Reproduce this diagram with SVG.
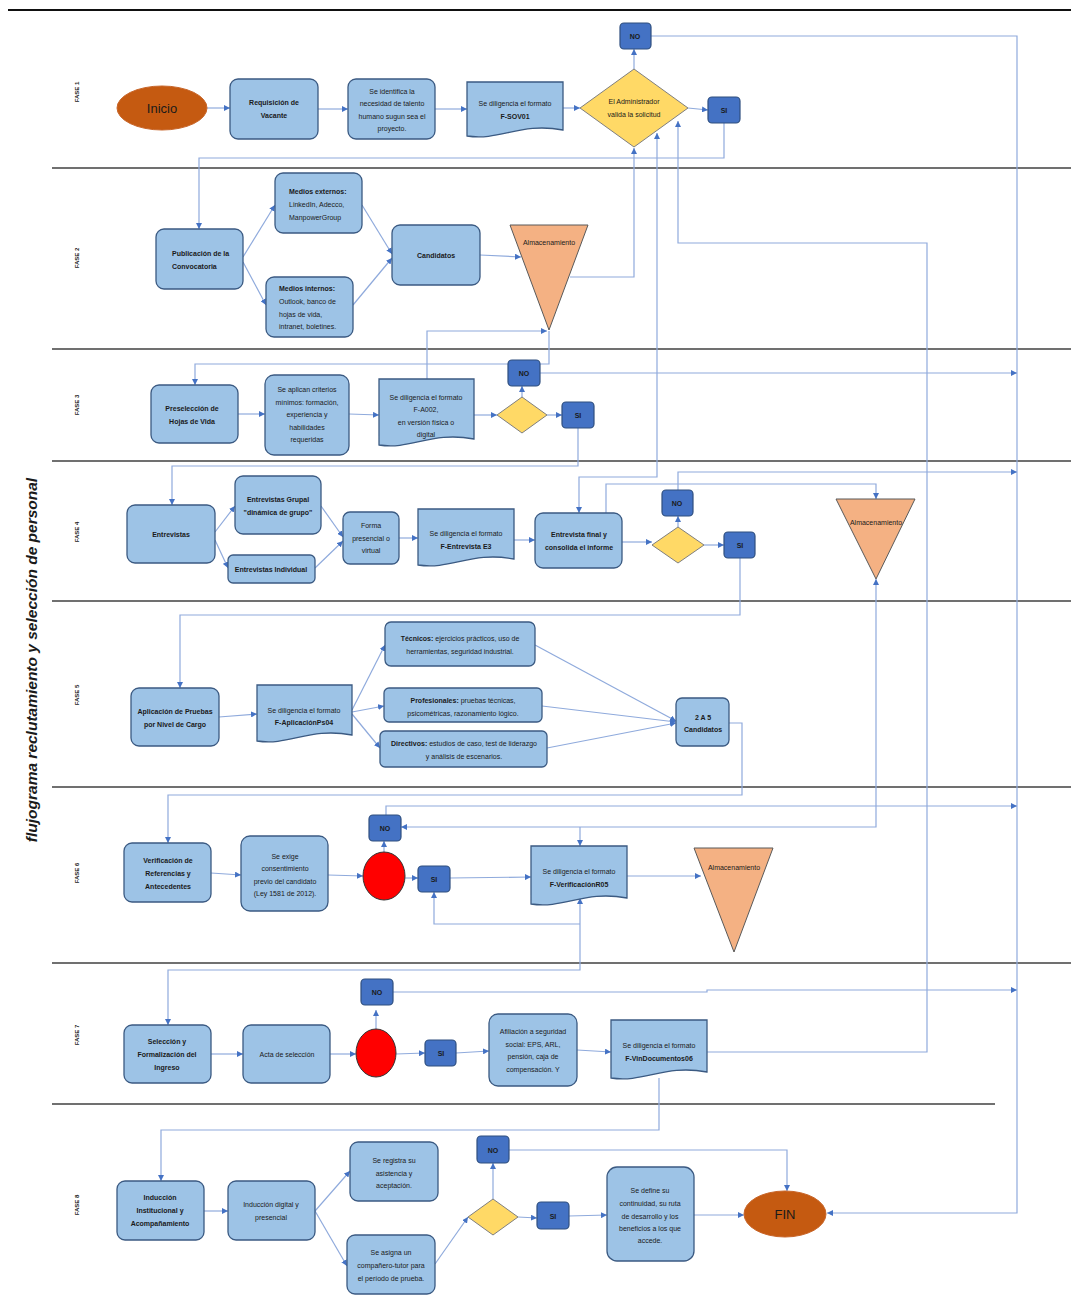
<svg xmlns="http://www.w3.org/2000/svg" width="1071" height="1300" viewBox="0 0 1071 1300">
<style>
.box{fill:#9DC3E6;stroke:#3B5A82;stroke-width:1.3}
.dec{fill:#FFD966;stroke:#7F7F7F;stroke-width:1}
.yn{fill:#4472C4;stroke:#2F4F7F;stroke-width:1.2}
.store{fill:#F4B183;stroke:#595959;stroke-width:1}
.term{fill:#C55A11;stroke:#C8662A;stroke-width:1}
.stop{fill:#FF0000;stroke:#333;stroke-width:1}
.t{font-family:"Liberation Sans",Arial,sans-serif;font-size:7px;fill:#1a1a1a;text-anchor:middle}
.big{font-size:13px}
.l{text-anchor:start}
.b{font-weight:bold}
.c{fill:none;stroke:#8FAADC;stroke-width:1.2}
.sep{stroke:#404040;stroke-width:1.5}
.fase{font-family:"Liberation Sans",Arial,sans-serif;font-size:6px;font-weight:bold;fill:#1a1a1a;text-anchor:middle}
</style>
<defs>
<marker id="ar" viewBox="0 0 10 10" refX="10" refY="5" markerWidth="6" markerHeight="6" orient="auto-start-reverse" markerUnits="userSpaceOnUse"><path d="M0,0 L10,5 L0,10 z" fill="#4472C4"/></marker>
</defs>
<rect width="1071" height="1300" fill="#fff"/>
<g id="lanes">
<line x1="8" y1="10" x2="1071" y2="10" stroke="#111" stroke-width="2"/>
<line class="sep" x1="52" y1="168" x2="1071" y2="168"/>
<line class="sep" x1="52" y1="349" x2="1071" y2="349"/>
<line class="sep" x1="52" y1="461" x2="1071" y2="461"/>
<line class="sep" x1="52" y1="601" x2="1071" y2="601"/>
<line class="sep" x1="52" y1="787" x2="1071" y2="787"/>
<line class="sep" x1="52" y1="963" x2="1071" y2="963"/>
<line class="sep" x1="52" y1="1104" x2="995" y2="1104"/>
<text transform="translate(37 660) rotate(-90)" font-family="Liberation Sans,Arial,sans-serif" font-size="15.5" font-weight="bold" font-style="italic" fill="#1a1a1a" text-anchor="middle">flujograma reclutamiento y selección de personal</text>
<text class="fase" transform="translate(79 92) rotate(-90)">FASE 1</text>
<text class="fase" transform="translate(79 258) rotate(-90)">FASE 2</text>
<text class="fase" transform="translate(79 405) rotate(-90)">FASE 3</text>
<text class="fase" transform="translate(79 532) rotate(-90)">FASE 4</text>
<text class="fase" transform="translate(79 695) rotate(-90)">FASE 5</text>
<text class="fase" transform="translate(79 873) rotate(-90)">FASE 6</text>
<text class="fase" transform="translate(79 1035) rotate(-90)">FASE 7</text>
<text class="fase" transform="translate(79 1205) rotate(-90)">FASE 8</text>
</g>
<g id="connectors" class="c" marker-end="url(#ar)">
<path d="M207 108 L230 108"/>
<path d="M318 109 L348 109"/>
<path d="M435 109 L467 109"/>
<path d="M563 108 L580 108"/>
<path d="M688 108 L708 110"/>
<path d="M634 69 L634 49"/>
<path d="M651 36 L1017 36 L1017 1213 L827 1213"/>
<path d="M724 123 L724 158 L199 158 L199 229"/>
<path d="M243 257 L275 205"/>
<path d="M243 262 L266 305"/>
<path d="M362 205 L392 254"/>
<path d="M353 305 L392 258"/>
<path d="M480 255 L521 257"/>
<path d="M570 277 L634 277 L634 148"/>
<path d="M427 379 L427 331 L547 331"/>
<path d="M549 331 L549 364 L195 364 L195 385"/>
<path d="M238 414 L265 414"/>
<path d="M349 414 L379 415"/>
<path d="M474 415 L497 415"/>
<path d="M522 397 L522 386"/>
<path d="M547 415 L562 415"/>
<path d="M540 373 L1017 373"/>
<path d="M578 428 L578 466 L172 466 L172 505"/>
<path d="M657 133 L657 477 L579 477 L579 513" marker-start="url(#ar)"/>
<path d="M707 1052 L927 1052 L927 243 L678 243 L678 121"/>
<path d="M215 532 L235 506"/>
<path d="M215 540 L228 568"/>
<path d="M321 506 L343 537"/>
<path d="M315 568 L343 541"/>
<path d="M399 538 L418 538"/>
<path d="M514 540 L535 540"/>
<path d="M622 542 L652 542"/>
<path d="M678 527 L678 516"/>
<path d="M704 545 L724 545"/>
<path d="M678 490 L678 472 L1017 472"/>
<path d="M606 513 L606 484 L876 484 L876 499"/>
<path d="M740 558 L740 615 L180 615 L180 688"/>
<path d="M219 717 L257 714"/>
<path d="M352 710 L385 645"/>
<path d="M352 712 L384 706"/>
<path d="M352 714 L380 748"/>
<path d="M535 645 L676 721"/>
<path d="M542 706 L676 722"/>
<path d="M547 748 L676 723"/>
<path d="M729 723 L742 723 L742 795 L168 795 L168 843"/>
<path d="M211 873 L241 875"/>
<path d="M328 875 L363 876"/>
<path d="M384 852 L384 841"/>
<path d="M405 878 L418 878"/>
<path d="M450 878 L531 877"/>
<path d="M627 876 L701 876"/>
<path d="M386 815 L386 806 L1017 806"/>
<path d="M876 579 L876 827 L401 827" marker-start="url(#ar)"/>
<path d="M580 827 L580 846"/>
<path d="M580 898 L580 970 L168 970 L168 1025" marker-start="url(#ar)"/>
<path d="M580 924 L434 924 L434 892"/>
<path d="M211 1054 L243 1054"/>
<path d="M330 1054 L356 1054"/>
<path d="M376 1029 L376 1010"/>
<path d="M393 992 L707 992 L707 990 L1017 990"/>
<path d="M396 1054 L425 1053"/>
<path d="M456 1053 L489 1051"/>
<path d="M577 1050 L611 1052"/>
<path d="M659 1078 L659 1130 L161 1130 L161 1181"/>
<path d="M204 1211 L228 1211"/>
<path d="M315 1211 L350 1171"/>
<path d="M315 1211 L347 1266"/>
<path d="M435 1264 L468 1217"/>
<path d="M493 1199 L493 1163"/>
<path d="M518 1217 L537 1218"/>
<path d="M569 1216 L607 1215"/>
<path d="M694 1215 L744 1215"/>
<path d="M509 1150 L787 1150 L787 1191"/>
</g>
<g id="inicio"><ellipse class="term" cx="162" cy="108" rx="45" ry="22"/><text class="t big" x="162" y="113">Inicio</text></g>
<g id="requisicion"><rect class="box" x="230" y="79" width="88" height="60" rx="8"/><text class="t b" x="274" y="105">Requisición de</text><text class="t b" x="274" y="118">Vacante</text></g>
<g id="identifica"><rect class="box" x="348" y="79" width="87" height="60" rx="8"/><text class="t" x="392" y="94">Se identifica la</text><text class="t" x="392" y="106">necesidad de talento</text><text class="t" x="392" y="119">humano sugun sea el</text><text class="t" x="392" y="131">proyecto.</text></g>
<g id="doc-sov01"><path class="box" d="M467 82 H563 V130 C520 122 501 141 467 136 Z"/><text class="t" x="515" y="106">Se diligencia el formato</text><text class="t b" x="515" y="119">F-SOV01</text></g>
<g id="valida"><polygon class="dec" points="580,108 634,69 688,108 634,147"/><text class="t" x="634" y="104">El Administrador</text><text class="t" x="634" y="117">valida la solicitud</text></g>
<g id="no1"><rect class="yn" x="620" y="23" width="31" height="26" rx="4"/><text class="t b" x="635" y="39">NO</text></g>
<g id="si1"><rect class="yn" x="708" y="97" width="32" height="26" rx="4"/><text class="t b" x="724" y="113">SI</text></g>
<g id="publicacion"><rect class="box" x="156" y="229" width="87" height="60" rx="8"/><text class="t b l" x="172" y="256">Publicación de la</text><text class="t b l" x="172" y="269">Convocatoria</text></g>
<g id="externos"><rect class="box" x="275" y="173" width="87" height="60" rx="8"/><text class="t l" x="289" y="194"><tspan class="b">Medios externos:</tspan></text><text class="t l" x="289" y="207">LinkedIn, Adecco,</text><text class="t l" x="289" y="220">ManpowerGroup</text></g>
<g id="internos"><rect class="box" x="266" y="277" width="87" height="60" rx="8"/><text class="t l" x="279" y="291"><tspan class="b">Medios internos:</tspan></text><text class="t l" x="279" y="304">Outlook, banco de</text><text class="t l" x="279" y="317">hojas de vida,</text><text class="t l" x="279" y="329">intranet, boletines.</text></g>
<g id="candidatos"><rect class="box" x="392" y="225" width="88" height="60" rx="8"/><text class="t b" x="436" y="258">Candidatos</text></g>
<g id="almacen1"><polygon class="store" points="510,225 588,225 549,330"/><text class="t" x="549" y="245">Almacenamiento</text></g>
<g id="preseleccion"><rect class="box" x="151" y="385" width="87" height="58" rx="8"/><text class="t b" x="192" y="411">Preselección de</text><text class="t b" x="192" y="424">Hojas de Vida</text></g>
<g id="criterios"><rect class="box" x="265" y="375" width="84" height="80" rx="9"/><text class="t" x="307" y="392">Se aplican criterios</text><text class="t" x="307" y="405">mínimos: formación,</text><text class="t" x="307" y="417">experiencia y</text><text class="t" x="307" y="430">habilidades</text><text class="t" x="307" y="442">requeridas</text></g>
<g id="doc-a002"><path class="box" d="M379 379 H474 V439 C431 431 412 450 379 445 Z"/><text class="t" x="426" y="400">Se diligencia el formato</text><text class="t" x="426" y="412">F-A002,</text><text class="t" x="426" y="425">en versión física o</text><text class="t" x="426" y="437">digital</text></g>
<g id="dec3"><polygon class="dec" points="497,415 522,397 547,415 522,433"/></g>
<g id="no3"><rect class="yn" x="508" y="360" width="32" height="26" rx="4"/><text class="t b" x="524" y="376">NO</text></g>
<g id="si3"><rect class="yn" x="562" y="402" width="32" height="26" rx="4"/><text class="t b" x="578" y="418">SI</text></g>
<g id="entrevistas"><rect class="box" x="127" y="505" width="88" height="58" rx="8"/><text class="t b" x="171" y="537">Entrevistas</text></g>
<g id="grupal"><rect class="box" x="235" y="476" width="86" height="58" rx="8"/><text class="t b" x="278" y="502">Entrevistas Grupal</text><text class="t b" x="278" y="515">"dinámica de grupo"</text></g>
<g id="individual"><rect class="box" x="228" y="555" width="87" height="28" rx="5"/><text class="t b" x="271" y="572">Entrevistas Individual</text></g>
<g id="forma"><rect class="box" x="343" y="512" width="56" height="52" rx="7"/><text class="t" x="371" y="528">Forma</text><text class="t" x="371" y="541">presencial o</text><text class="t" x="371" y="553">virtual</text></g>
<g id="doc-e3"><path class="box" d="M418 509 H514 V559 C471 551 452 570 418 565 Z"/><text class="t" x="466" y="536">Se diligencia el formato</text><text class="t b" x="466" y="549">F-Entrevista E3</text></g>
<g id="final"><rect class="box" x="535" y="513" width="87" height="55" rx="8"/><text class="t b" x="579" y="537">Entrevista final y</text><text class="t b" x="579" y="550">consolida el informe</text></g>
<g id="dec4"><polygon class="dec" points="652,545 678,527 704,545 678,563"/></g>
<g id="no4"><rect class="yn" x="662" y="490" width="31" height="26" rx="4"/><text class="t b" x="677" y="506">NO</text></g>
<g id="si4"><rect class="yn" x="724" y="532" width="31" height="26" rx="4"/><text class="t b" x="740" y="548">SI</text></g>
<g id="almacen4"><polygon class="store" points="836,499 915,499 876,579"/><text class="t" x="876" y="525">Almacenamiento</text></g>
<g id="aplicacion"><rect class="box" x="131" y="688" width="88" height="58" rx="8"/><text class="t b" x="175" y="714">Aplicación de Pruebas</text><text class="t b" x="175" y="727">por Nivel de Cargo</text></g>
<g id="doc-ps04"><path class="box" d="M257 685 H352 V735 C309 727 290 746 257 741 Z"/><text class="t" x="304" y="713">Se diligencia el formato</text><text class="t b" x="304" y="725">F-AplicaciónPs04</text></g>
<g id="tecnicos"><rect class="box" x="385" y="622" width="150" height="44" rx="6"/><text class="t" x="460" y="641"><tspan class="b">Técnicos:</tspan> ejercicios prácticos, uso de</text><text class="t" x="460" y="654">herramientas, seguridad industrial.</text></g>
<g id="profesionales"><rect class="box" x="384" y="688" width="158" height="34" rx="5"/><text class="t" x="463" y="703"><tspan class="b">Profesionales:</tspan> pruebas técnicas,</text><text class="t" x="463" y="716">psicométricas, razonamiento lógico.</text></g>
<g id="directivos"><rect class="box" x="380" y="731" width="167" height="36" rx="5"/><text class="t" x="464" y="746"><tspan class="b">Directivos:</tspan> estudios de caso, test de liderazgo</text><text class="t" x="464" y="759">y análisis de escenarios.</text></g>
<g id="dos-a-cinco"><rect class="box" x="676" y="698" width="53" height="48" rx="6"/><text class="t b" x="703" y="720">2 A 5</text><text class="t b" x="703" y="732">Candidatos</text></g>
<g id="verificacion"><rect class="box" x="124" y="843" width="87" height="59" rx="8"/><text class="t b" x="168" y="863">Verificación de</text><text class="t b" x="168" y="876">Referencias y</text><text class="t b" x="168" y="889">Antecedentes</text></g>
<g id="consentimiento"><rect class="box" x="241" y="836" width="87" height="75" rx="9"/><text class="t" x="285" y="859">Se exige</text><text class="t" x="285" y="871">consentimiento</text><text class="t" x="285" y="884">previo del candidato</text><text class="t" x="285" y="896">(Ley 1581 de 2012).</text></g>
<g id="stop6"><ellipse class="stop" cx="384" cy="876" rx="21" ry="24"/></g>
<g id="no6"><rect class="yn" x="369" y="815" width="32" height="26" rx="4"/><text class="t b" x="385" y="831">NO</text></g>
<g id="si6"><rect class="yn" x="418" y="866" width="32" height="26" rx="4"/><text class="t b" x="434" y="882">SI</text></g>
<g id="doc-r05"><path class="box" d="M531 846 H627 V898 C584 890 565 909 531 904 Z"/><text class="t" x="579" y="874">Se diligencia el formato</text><text class="t b" x="579" y="887">F-VerificaciónR05</text></g>
<g id="almacen6"><polygon class="store" points="694,848 773,848 734,952"/><text class="t" x="734" y="870">Almacenamiento</text></g>
<g id="seleccion"><rect class="box" x="124" y="1025" width="87" height="58" rx="8"/><text class="t b" x="167" y="1044">Selección y</text><text class="t b" x="167" y="1057">Formalización del</text><text class="t b" x="167" y="1070">Ingreso</text></g>
<g id="acta"><rect class="box" x="243" y="1025" width="87" height="58" rx="8"/><text class="t" x="287" y="1057">Acta de selección</text></g>
<g id="stop7"><ellipse class="stop" cx="376" cy="1053" rx="20" ry="24"/></g>
<g id="no7"><rect class="yn" x="361" y="979" width="32" height="26" rx="4"/><text class="t b" x="377" y="995">NO</text></g>
<g id="si7"><rect class="yn" x="425" y="1040" width="31" height="26" rx="4"/><text class="t b" x="441" y="1056">SI</text></g>
<g id="afiliacion"><rect class="box" x="489" y="1014" width="88" height="72" rx="9"/><text class="t" x="533" y="1034">Afiliación a seguridad</text><text class="t" x="533" y="1047">social: EPS, ARL,</text><text class="t" x="533" y="1059">pensión, caja de</text><text class="t" x="533" y="1072">compensación. Y</text></g>
<g id="doc-06"><path class="box" d="M611 1020 H707 V1072 C664 1064 645 1083 611 1078 Z"/><text class="t" x="659" y="1048">Se diligencia el formato</text><text class="t b" x="659" y="1061">F-VinDocumentos06</text></g>
<g id="induccion"><rect class="box" x="117" y="1181" width="87" height="59" rx="8"/><text class="t b" x="160" y="1200">Inducción</text><text class="t b" x="160" y="1213">Institucional y</text><text class="t b" x="160" y="1226">Acompañamiento</text></g>
<g id="digital"><rect class="box" x="228" y="1181" width="87" height="59" rx="8"/><text class="t" x="271" y="1207">Inducción digital y</text><text class="t" x="271" y="1220">presencial</text></g>
<g id="registra"><rect class="box" x="350" y="1142" width="88" height="59" rx="8"/><text class="t" x="394" y="1163">Se registra su</text><text class="t" x="394" y="1176">asistencia y</text><text class="t" x="394" y="1188">aceptación.</text></g>
<g id="tutor"><rect class="box" x="347" y="1235" width="88" height="59" rx="8"/><text class="t" x="391" y="1255">Se asigna un</text><text class="t" x="391" y="1268">compañero-tutor para</text><text class="t" x="391" y="1281">el período de prueba.</text></g>
<g id="dec8"><polygon class="dec" points="468,1217 493,1199 518,1217 493,1235"/></g>
<g id="no8"><rect class="yn" x="477" y="1136" width="32" height="27" rx="4"/><text class="t b" x="493" y="1153">NO</text></g>
<g id="si8"><rect class="yn" x="537" y="1202" width="32" height="27" rx="4"/><text class="t b" x="553" y="1219">SI</text></g>
<g id="continuidad"><rect class="box" x="607" y="1167" width="87" height="94" rx="10"/><text class="t" x="650" y="1193">Se define su</text><text class="t" x="650" y="1206">continuidad, su ruta</text><text class="t" x="650" y="1219">de desarrollo y los</text><text class="t" x="650" y="1231">beneficios a los que</text><text class="t" x="650" y="1243">accede.</text></g>
<g id="fin"><ellipse class="term" cx="785" cy="1214" rx="41" ry="23"/><text class="t big" x="785" y="1219">FIN</text></g>
</svg>
